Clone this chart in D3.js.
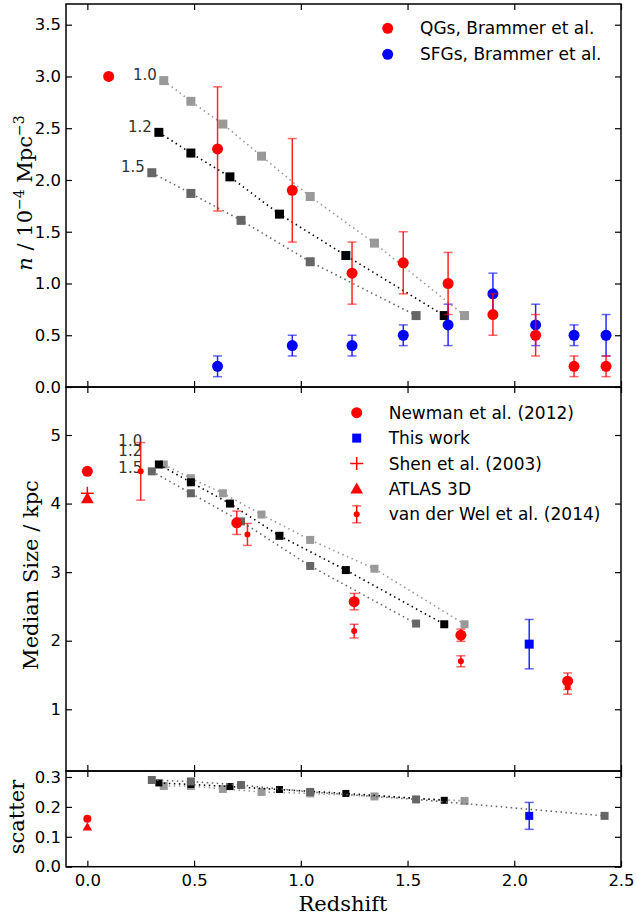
<!DOCTYPE html>
<html lang="en">
<head>
<meta charset="utf-8">
<script src="https://d3js.org/d3.v7.min.js"></script>
<style>
body { margin: 0; background: #fff; }
svg { display: block; }
</style>
</head>
<body>
<svg id="chart" width="637" height="915"></svg>
<script>
// ---- data ----
const xTicks = [0, 0.5, 1.0, 1.5, 2.0, 2.5];
const topTicks = [0, 0.5, 1.0, 1.5, 2.0, 2.5, 3.0, 3.5];
const midTicks = [1, 2, 3, 4, 5];
const botTicks = [0, 0.1, 0.2, 0.3];

const trackNames = ['1.0', '1.2', '1.5'];
const trackColors = ['#999999', '#000000', '#666666'];

// model tracks (redshift of each step)
const trackZ10 = [0.358, 0.485, 0.635, 0.816, 1.044, 1.345, 1.767];
const trackZ12 = [0.335, 0.485, 0.668, 0.900, 1.211, 1.672];
const trackZ15 = [0.302, 0.485, 0.720, 1.044, 1.540];
const trackZ15s = [0.302, 0.485, 0.720, 1.044, 1.540, 2.423];

const dens10 = [2.96, 2.76, 2.54, 2.23, 1.84, 1.39, 0.69];
const dens12 = [2.46, 2.26, 2.03, 1.67, 1.27, 0.69];
const dens15 = [2.07, 1.87, 1.61, 1.21, 0.69];

const size10 = [4.57, 4.37, 4.15, 3.84, 3.47, 3.05, 2.24];
const size12 = [4.57, 4.31, 4.00, 3.53, 3.03, 2.24];
const size15 = [4.47, 4.15, 3.74, 3.09, 2.25];

const scat10 = [0.270, 0.270, 0.260, 0.250, 0.245, 0.235, 0.220];
const scat12 = [0.280, 0.275, 0.268, 0.258, 0.245, 0.222];
const scat15 = [0.290, 0.285, 0.273, 0.250, 0.225, 0.170];

// Brammer et al. number densities
const qgZ = [0.10, 0.61, 0.96, 1.24, 1.48, 1.69, 1.90, 2.10, 2.28, 2.43];
const qgN = [3.0, 2.3, 1.9, 1.1, 1.2, 1.0, 0.7, 0.5, 0.2, 0.2];
const qgErr = [0, 0.6, 0.5, 0.3, 0.3, 0.3, 0.2, 0.2, 0.1, 0.1];
const sfgZ = [0.61, 0.96, 1.24, 1.48, 1.69, 1.90, 2.10, 2.28, 2.43];
const sfgN = [0.2, 0.4, 0.4, 0.5, 0.6, 0.9, 0.6, 0.5, 0.5];
const sfgErr = [0.1, 0.1, 0.1, 0.1, 0.2, 0.2, 0.2, 0.1, 0.2];

// sizes
const newmanZ = [0, 0.70, 1.25, 1.75, 2.25];
const newmanSize = [4.47, 3.72, 2.57, 2.08, 1.41];
const newmanErr = [0, 0.17, 0.12, 0.09, 0.12];
const vdwZ = [0.25, 0.75, 1.25, 1.75, 2.25];
const vdwSize = [4.47, 3.55, 2.14, 1.70, 1.32];
const vdwErr = [0.42, 0.16, 0.10, 0.08, 0.10];
const shenZ = [0], shenSize = [4.15];
const atlasZ = [0], atlasSize = [4.06];
const workZ = [2.07], workSize = [1.95], workErr = [0.36];

// scatter
const localZ = [0];
const newmanScat = [0.16];
const atlasScat = [0.13];
const workScat = [0.17], workScatErr = [0.045];

// ---- layout ----
const svg = d3.select('#chart');
const left = 66, right = 621;
const x = d3.scaleLinear().domain([-0.1, 2.5]).range([left, right]);
const yTop = d3.scaleLinear().domain([0, 3.7]).range([387, 4]);
const yMid = d3.scaleLinear().domain([0.1, 5.7]).range([771, 387]);
const yBot = d3.scaleLinear().domain([0, 0.32]).range([866.7, 771]);

const tickFont = '16.5px "DejaVu Sans", sans-serif';
const labelFont = '"DejaVu Serif", serif';
const red = '#ff0000', blue = '#0000ff';

const zip = (xs, ys) => xs.map((v, i) => [v, ys[i]]);

function frame(y, ticks, fmt, showX) {
  const g = svg.append('g');
  const y0 = y.range()[0], y1 = y.range()[1];
  g.append('g').attr('transform', `translate(${left},0)`)
    .call(d3.axisLeft(y).tickValues(ticks).tickFormat(d3.format(fmt)).tickSize(-6).tickPadding(5));
  g.append('g').attr('transform', `translate(${right},0)`)
    .call(d3.axisRight(y).tickValues(ticks).tickFormat('').tickSize(-6));
  g.append('g').attr('transform', `translate(0,${y0})`)
    .call(d3.axisBottom(x).tickValues(xTicks).tickFormat(showX ? d3.format('.1f') : '').tickSize(-6).tickPadding(8));
  g.append('g').attr('transform', `translate(0,${y1})`)
    .call(d3.axisTop(x).tickValues(xTicks).tickFormat('').tickSize(-6));
  g.selectAll('.domain').remove();
  g.selectAll('.tick line').attr('stroke', '#000').attr('stroke-width', 1.2);
  g.selectAll('.tick text').style('font', tickFont).attr('fill', '#000');
  g.append('rect').attr('x', left).attr('y', y1).attr('width', right - left).attr('height', y0 - y1)
    .attr('fill', 'none').attr('stroke', '#000').attr('stroke-width', 1.5);
}

function track(y, zs, vs, color, size) {
  const pts = zip(zs, vs);
  svg.append('path').datum(pts)
    .attr('d', d3.line().x(d => x(d[0])).y(d => y(d[1])))
    .attr('fill', 'none').attr('stroke', color).attr('stroke-width', 1.6)
    .attr('stroke-dasharray', '1.5,3.5');
  svg.append('g').selectAll('rect').data(pts).join('rect')
    .attr('x', d => x(d[0]) - size / 2).attr('y', d => y(d[1]) - size / 2)
    .attr('width', size).attr('height', size).attr('fill', color);
}

function errbars(y, zs, vs, es, color, cap) {
  const pts = zs.map((z, i) => ({ z, v: vs[i], e: es[i] })).filter(d => d.e > 0);
  const g = svg.append('g').attr('stroke', color).attr('stroke-width', 1.5).attr('stroke-opacity', 0.85);
  g.selectAll('.v').data(pts).join('line')
    .attr('x1', d => x(d.z)).attr('x2', d => x(d.z))
    .attr('y1', d => y(d.v - d.e)).attr('y2', d => y(d.v + d.e));
  g.selectAll('.c').data(pts.flatMap(d => [[d.z, d.v - d.e], [d.z, d.v + d.e]])).join('line')
    .attr('stroke-opacity', 0.6)
    .attr('x1', d => x(d[0]) - cap).attr('x2', d => x(d[0]) + cap)
    .attr('y1', d => y(d[1])).attr('y2', d => y(d[1]));
}

function dots(y, zs, vs, color, r) {
  svg.append('g').selectAll('circle').data(zip(zs, vs)).join('circle')
    .attr('cx', d => x(d[0])).attr('cy', d => y(d[1])).attr('r', r).attr('fill', color);
}

function symbols(y, zs, vs, type, area, color) {
  svg.append('g').selectAll('path').data(zip(zs, vs)).join('path')
    .attr('transform', d => `translate(${x(d[0])},${y(d[1])})`)
    .attr('d', d3.symbol(type, area)).attr('fill', color);
}

function plus(y, zs, vs, half) {
  const g = svg.append('g').attr('stroke', red).attr('stroke-width', 1.5);
  zip(zs, vs).forEach(d => {
    g.append('line').attr('x1', x(d[0]) - half).attr('x2', x(d[0]) + half).attr('y1', y(d[1])).attr('y2', y(d[1]));
    g.append('line').attr('x1', x(d[0])).attr('x2', x(d[0])).attr('y1', y(d[1]) - half).attr('y2', y(d[1]) + half);
  });
}

function trackText(px, py, t) {
  svg.append('text').attr('x', px).attr('y', py).attr('text-anchor', 'end')
    .attr('dominant-baseline', 'middle').style('font', '15px "DejaVu Sans", sans-serif')
    .attr('fill', '#333').text(t);
}

// ---- top panel: number density ----
frame(yTop, topTicks, '.1f', false);
track(yTop, trackZ10, dens10, trackColors[0], 9);
track(yTop, trackZ12, dens12, trackColors[1], 9);
track(yTop, trackZ15, dens15, trackColors[2], 9);
[[trackZ10, dens10], [trackZ12, dens12], [trackZ15, dens15]].forEach((t, i) => {
  trackText(x(t[0][0]) - 7, yTop(t[1][0]) - 5, trackNames[i]);
});
errbars(yTop, sfgZ, sfgN, sfgErr, blue, 4.5);
dots(yTop, sfgZ, sfgN, blue, 5.5);
errbars(yTop, qgZ, qgN, qgErr, red, 4.5);
dots(yTop, qgZ, qgN, red, 5.5);

// ---- middle panel: median size ----
frame(yMid, midTicks, 'd', false);
track(yMid, trackZ10, size10, trackColors[0], 8);
track(yMid, trackZ12, size12, trackColors[1], 8);
track(yMid, trackZ15, size15, trackColors[2], 8);
trackText(x(0.257), yMid(4.90), trackNames[0]);
trackText(x(0.257), yMid(4.76), trackNames[1]);
trackText(x(0.257), yMid(4.51), trackNames[2]);
errbars(yMid, newmanZ, newmanSize, newmanErr, red, 4.5);
dots(yMid, newmanZ, newmanSize, red, 5.5);
errbars(yMid, vdwZ, vdwSize, vdwErr, red, 4.5);
dots(yMid, vdwZ, vdwSize, red, 3);
symbols(yMid, atlasZ, atlasSize, d3.symbolTriangle, 70, red);
plus(yMid, shenZ, shenSize, 6.5);
errbars(yMid, workZ, workSize, workErr, blue, 4.5);
symbols(yMid, workZ, workSize, d3.symbolSquare, 81, blue);

// ---- bottom panel: scatter ----
frame(yBot, botTicks, '.1f', true);
track(yBot, trackZ10, scat10, trackColors[0], 8);
track(yBot, trackZ12, scat12, trackColors[1], 7);
track(yBot, trackZ15s, scat15, trackColors[2], 8);
dots(yBot, localZ, newmanScat, red, 4);
symbols(yBot, localZ, atlasScat, d3.symbolTriangle, 40, red);
errbars(yBot, workZ, workScat, workScatErr, blue, 4.5);
symbols(yBot, workZ, workScat, d3.symbolSquare, 64, blue);

// ---- legends ----
const legFont = '17px "DejaVu Sans", sans-serif';
function legText(px, py, t) {
  svg.append('text').attr('x', px).attr('y', py + 6).style('font', legFont).attr('fill', '#000').text(t);
}
svg.append('circle').attr('cx', 387.7).attr('cy', 28.3).attr('r', 5.5).attr('fill', red);
legText(420, 28.3, 'QGs, Brammer et al.');
svg.append('circle').attr('cx', 387.7).attr('cy', 54.3).attr('r', 5.5).attr('fill', blue);
legText(420, 54.3, 'SFGs, Brammer et al.');

const lx = 356.7, ly = 412.7, dy = 25.4;
svg.append('circle').attr('cx', lx).attr('cy', ly).attr('r', 5.5).attr('fill', red);
legText(388.7, ly, 'Newman et al. (2012)');
svg.append('path').attr('transform', `translate(${lx},${ly + dy})`).attr('d', d3.symbol(d3.symbolSquare, 81)).attr('fill', blue);
legText(388.7, ly + dy, 'This work');
const pg = svg.append('g').attr('stroke', red).attr('stroke-width', 1.5);
pg.append('line').attr('x1', lx - 6.5).attr('x2', lx + 6.5).attr('y1', ly + 2 * dy).attr('y2', ly + 2 * dy);
pg.append('line').attr('x1', lx).attr('x2', lx).attr('y1', ly + 2 * dy - 6.5).attr('y2', ly + 2 * dy + 6.5);
legText(388.7, ly + 2 * dy, 'Shen et al. (2003)');
svg.append('path').attr('transform', `translate(${lx},${ly + 3 * dy + 1})`).attr('d', d3.symbol(d3.symbolTriangle, 70)).attr('fill', red);
legText(388.7, ly + 3 * dy, 'ATLAS 3D');
const vg = svg.append('g').attr('stroke', red).attr('stroke-width', 1.5);
vg.append('line').attr('x1', lx).attr('x2', lx).attr('y1', ly + 4 * dy - 8.5).attr('y2', ly + 4 * dy + 8.5);
vg.append('line').attr('x1', lx - 4.5).attr('x2', lx + 4.5).attr('y1', ly + 4 * dy - 8.5).attr('y2', ly + 4 * dy - 8.5).attr('stroke-opacity', 0.6);
vg.append('line').attr('x1', lx - 4.5).attr('x2', lx + 4.5).attr('y1', ly + 4 * dy + 8.5).attr('y2', ly + 4 * dy + 8.5).attr('stroke-opacity', 0.6);
svg.append('circle').attr('cx', lx).attr('cy', ly + 4 * dy).attr('r', 3).attr('fill', red);
legText(388.7, ly + 4 * dy, 'van der Wel et al. (2014)');

// ---- axis labels ----
const yl = svg.append('text').attr('transform', 'translate(32,193) rotate(-90)')
  .attr('text-anchor', 'middle').style('font-family', labelFont).style('font-size', '21px');
yl.append('tspan').style('font-style', 'italic').text('n');
yl.append('tspan').text(' / 10');
yl.append('tspan').attr('dy', -8).style('font-size', '14px').text('−4');
yl.append('tspan').attr('dy', 8).text(' Mpc');
yl.append('tspan').attr('dy', -8).style('font-size', '14px').text('−3');

svg.append('text').attr('transform', 'translate(38,575) rotate(-90)')
  .attr('text-anchor', 'middle').style('font-family', labelFont).style('font-size', '21px')
  .text('Median Size / kpc');
svg.append('text').attr('transform', 'translate(24,817) rotate(-90)')
  .attr('text-anchor', 'middle').style('font-family', labelFont).style('font-size', '21px')
  .text('scatter');
svg.append('text').attr('x', 343).attr('y', 911)
  .attr('text-anchor', 'middle').style('font-family', labelFont).style('font-size', '21px')
  .text('Redshift');
</script>
</body>
</html>
